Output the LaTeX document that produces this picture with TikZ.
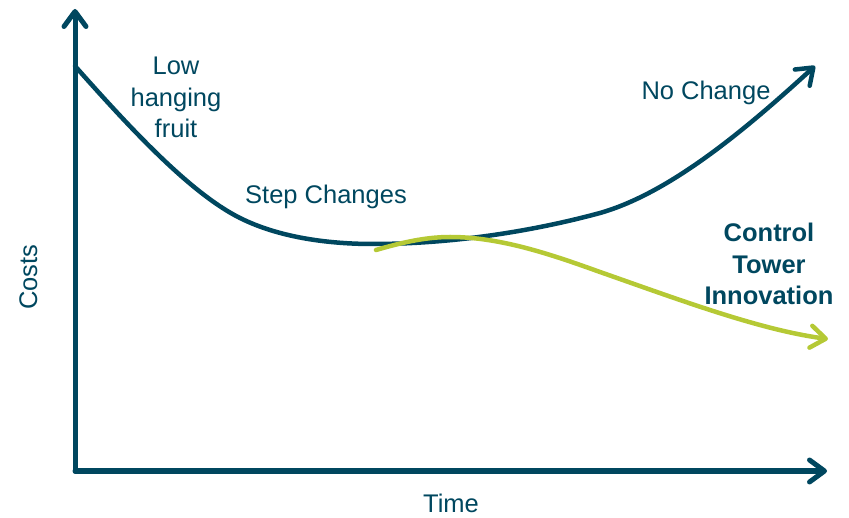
\documentclass[tikz,border=0pt]{standalone}
\usepackage{fontspec}
\setmainfont{Liberation Sans}
\usetikzlibrary{arrows.meta}
\definecolor{teal}{HTML}{00475F}
\definecolor{lime}{HTML}{B5C935}
\tikzset{
  axisline/.style={line width=5pt, draw=teal, line cap=round, line join=round},
  curveline/.style={line width=4.5pt, line cap=round, line join=round},
  barb/.style={-{Straight Barb[length=15pt,width=22pt,line cap=round,line join=round]}},
  lbl/.style={text=teal, font=\fontsize{25.5}{31.5}\selectfont, inner sep=0pt, align=center, anchor=base},
  blbl/.style={lbl, font=\fontsize{25.5}{31.5}\selectfont\bfseries},
}
\begin{document}
\begin{tikzpicture}[x=1pt,y=-1pt]
\useasboundingbox (0,0) rectangle (849,518);
\coordinate (origin) at (75,471);
\coordinate (ytip) at (75,9);
\coordinate (xtip) at (827,471);
\draw[axisline,barb] (origin) -- (ytip);
\draw[axisline,barb] (origin) -- (xtip);
% No change curve
\coordinate (b0) at (75,66);
\coordinate (b1) at (240,218);
\coordinate (b2) at (373,244);
\coordinate (b3) at (600,213);
\coordinate (b4) at (815,66);
\draw[curveline, draw=teal, barb] (b0)
  .. controls (130,128) and (190,193) .. (b1)
  .. controls (280,238) and (330,244) .. (b2)
  .. controls (450,244) and (530,232) .. (b3)
  .. controls (670,193) and (745,130) .. (b4);
% Control tower curve
\coordinate (g0) at (376,250);
\coordinate (g1) at (450,237);
\coordinate (g2) at (600,272);
\coordinate (g3) at (828,339);
\draw[curveline, draw=lime, barb] (g0)
  .. controls (400,243) and (425,237) .. (g1)
  .. controls (500,237) and (550,254) .. (g2)
  .. controls (680,300) and (760,330) .. (g3);
\node[lbl] (lhf) at (176,138) {Low\\hanging\\fruit};
\node[lbl] (step) at (326,204) {Step Changes};
\node[lbl] (nochange) at (706,100) {No Change};
\node[blbl] (ctl) at (769,305) {Control\\Tower\\Innovation};
\node[lbl, rotate=90] (costs) at (37,277) {Costs};
\node[lbl] (time) at (451,512) {Time};
\end{tikzpicture}
\end{document}
